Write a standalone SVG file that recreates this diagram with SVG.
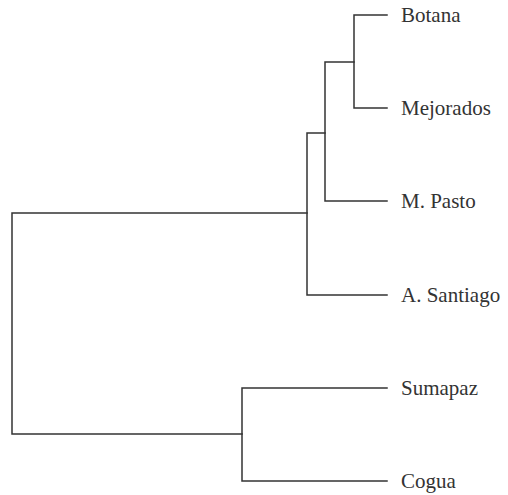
<svg xmlns="http://www.w3.org/2000/svg" width="508" height="495" viewBox="0 0 508 495">
<style>
.e{fill:none;stroke:#333;stroke-width:1.5;stroke-linecap:square}
.t{font-family:'Liberation Serif','Times New Roman','DejaVu Serif',serif;font-size:21px;fill:#333}
</style>
<rect width="508" height="495" fill="#fff"/>
<g id="connectors">
<path class="e" d="M354,15H387M354,15V108H387"/>
<path class="e" d="M325,62H354M325,62V201H387"/>
<path class="e" d="M307,133H325M307,133V295H387"/>
<path class="e" d="M242,388H387M242,388V481H387"/>
<path class="e" d="M12,213H307M12,213V434H242"/>
</g>
<g id="Botana"><text class="t" x="401" y="22">Botana</text></g>
<g id="Mejorados"><text class="t" x="401" y="115">Mejorados</text></g>
<g id="MPasto"><text class="t" x="401" y="208">M. Pasto</text></g>
<g id="ASantiago"><text class="t" x="401" y="302">A. Santiago</text></g>
<g id="Sumapaz"><text class="t" x="401" y="395">Sumapaz</text></g>
<g id="Cogua"><text class="t" x="401" y="488">Cogua</text></g>
</svg>
